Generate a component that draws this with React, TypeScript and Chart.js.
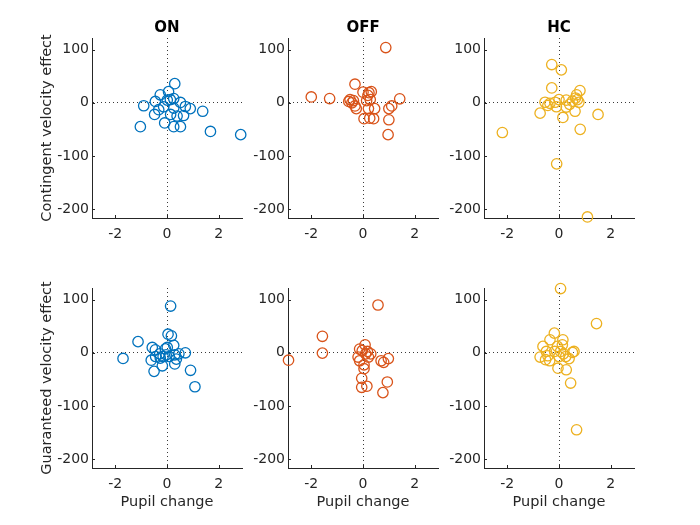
import React, { useEffect, useRef } from 'react';
import { Chart, registerables } from 'chart.js';

Chart.register(...registerables);

// ---- data ----
const GROUPS = ['ON', 'OFF', 'HC'];
const GROUP_COLORS = ['#0072BD', '#D95319', '#EDB120'];
const ROW_LABELS = ['Contingent velocity effect', 'Guaranteed velocity effect'];
const X_LABEL = 'Pupil change';
const X_TICKS = [-2, 0, 2];
const Y_TICKS = [-200, -100, 0, 100];
const X_RANGE = [-2.9, 2.9];
const Y_RANGE = [-217, 122];

const onContingent = [
  [0.30, 36], [0.06, 21], [-0.26, 15], [-0.45, 2.5], [-0.90, -5.6], [0.01, 5], [0.26, 8], [0.13, 6],
  [0.52, 0.6], [0.71, -7], [0.90, -11], [0.26, -10], [-0.32, -13], [-0.48, -22], [0.14, -22], [0.39, -25],
  [0.64, -24], [1.38, -16], [-0.09, -38], [0.26, -45], [0.52, -45], [-1.03, -45], [1.68, -54], [2.85, -60],
  [-0.13, -7.5],
];
const offContingent = [
  [0.88, 104], [-2.0, 11], [-1.29, 8], [-0.31, 35], [-0.50, 6], [-0.43, 0], [-0.37, 4], [-0.31, -6],
  [-0.26, -11], [0, 20], [0.23, 19], [0.32, 21], [0.19, 14], [0.28, 6], [0.14, 4], [0.21, -11],
  [0.45, -11], [0.04, -30], [0.26, -29], [0.41, -30], [1.0, -11], [1.11, -6], [1.42, 7.5], [1.0, -32],
  [0.97, -60], [-0.55, 2.5],
];
const hcContingent = [
  [-0.28, 72], [0.09, 62], [-0.28, 28], [-0.73, -19.5], [-0.54, 1], [-0.43, -5], [-0.15, 1], [-0.10, -7.5],
  [0.15, -27.6], [0.28, 5], [0.28, -8], [0.52, 3], [0.64, 9], [0.68, 15], [0.81, 23], [0.77, 1],
  [0.62, -16], [0.82, -50], [-2.19, -56], [-0.09, -115], [1.10, -215], [0, 6], [-0.35, -1], [0.41, -3],
  [0.71, 6], [1.51, -22],
];
const onGuaranteed = [
  [0.14, 88], [-1.12, 21], [-1.70, -10.7], [0.04, 35], [0.17, 32], [0.26, 14], [-0.57, 10], [-0.45, 5.6],
  [-0.06, 7.5], [0.01, 10], [0.71, 0], [-0.61, -14], [-0.44, -7], [-0.26, -10], [-0.15, -7], [0.08, -7],
  [0.30, -4], [0.36, -12], [0.30, -21], [-0.18, -24.5], [-0.50, -35], [0.91, -33], [1.08, -64], [0.46, -2],
  [-0.03, -4], [-0.28, -2],
];
const offGuaranteed = [
  [0.58, 90], [-1.57, 31], [-1.57, -0.6], [-2.88, -14], [0.08, 15], [-0.13, 7], [-0.03, 4], [-0.19, -8],
  [-0.13, -15], [0.10, -2], [0.30, -2], [0.21, -8], [0.04, -22.6], [0.04, -30], [-0.05, -48], [-0.05, -65],
  [0.15, -63], [0.70, -15], [0.80, -18], [0.98, -11], [0.94, -55], [0.77, -75], [0.17, 2.5],
];
const hcGuaranteed = [
  [0.06, 121], [-0.18, 37], [-0.35, 24.5], [-0.62, 12], [-0.73, -8], [-0.49, 2.5], [-0.43, -5.6], [-0.36, -15],
  [-0.06, 12], [-0.04, -29], [0.15, 24.5], [0.13, 15], [0.06, 2.5], [0.26, -7], [0.39, -11], [0.52, 0.6],
  [0.28, -32], [0.45, -57], [0.68, -145], [-0.17, 2.5], [0, -7], [0.17, -2], [0.58, 2.5], [-0.52, -13],
  [1.45, 55],
];

const PANEL_DATA = [
  [onContingent, offContingent, hcContingent],
  [onGuaranteed, offGuaranteed, hcGuaranteed],
];

// ---- layout / style ----
const FONT = '"DejaVu Sans", sans-serif';
const TEXT = '#262626';
const CANVAS_W = 220;
const CANVAS_H = 266;

const innerTicks = {
  id: 'innerTicks',
  afterDraw(chart: any) {
    const { ctx, chartArea, scales } = chart;
    const { left, bottom } = chartArea;
    ctx.save();
    ctx.strokeStyle = TEXT;
    ctx.lineWidth = 1;
    ctx.beginPath();
    X_TICKS.forEach((v) => {
      const px = Math.round(scales.x.getPixelForValue(v)) + 0.5;
      ctx.moveTo(px, bottom);
      ctx.lineTo(px, bottom - 3);
    });
    Y_TICKS.forEach((v) => {
      const py = Math.round(scales.y.getPixelForValue(v)) + 0.5;
      ctx.moveTo(left, py);
      ctx.lineTo(left + 3, py);
    });
    ctx.stroke();
    ctx.restore();
  },
};

const panelTitle = {
  id: 'panelTitle',
  afterDraw(chart: any, _args: any, opts: any) {
    if (!opts || !opts.text) return;
    const { ctx, chartArea } = chart;
    ctx.save();
    ctx.font = `bold 15px ${FONT}`;
    ctx.fillStyle = '#000000';
    ctx.textAlign = 'center';
    ctx.textBaseline = 'middle';
    ctx.fillText(opts.text, (chartArea.left + chartArea.right) / 2, 26);
    ctx.restore();
  },
};

function Panel({ row, col }: { row: number; col: number }) {
  const ref = useRef<HTMLCanvasElement | null>(null);

  useEffect(() => {
    if (!ref.current) return;
    const color = GROUP_COLORS[col];
    const pts = PANEL_DATA[row][col].map(([x, y]) => ({ x, y }));
    const zeroGrid = (c: any) => (c.tick && c.tick.value === 0 ? '#3a3a3a' : 'rgba(0,0,0,0)');
    const chart = new Chart(ref.current, {
      type: 'scatter',
      data: {
        datasets: [
          {
            data: pts,
            pointRadius: 5.2,
            pointHoverRadius: 5.2,
            pointBorderWidth: 1.3,
            pointBorderColor: color,
            pointBackgroundColor: 'rgba(0,0,0,0)',
            borderColor: color,
            backgroundColor: 'rgba(0,0,0,0)',
            clip: false as any,
          },
        ],
      },
      options: {
        responsive: false,
        animation: false,
        events: [],
        layout: { padding: { top: 36, right: 10, left: 0, bottom: 0 } },
        plugins: {
          legend: { display: false },
          tooltip: { enabled: false },
          title: { display: false },
          panelTitle: { text: row === 0 ? GROUPS[col] : '' },
        } as any,
        scales: {
          x: {
            type: 'linear',
            min: X_RANGE[0],
            max: X_RANGE[1],
            afterBuildTicks: (s: any) => {
              s.ticks = X_TICKS.map((v) => ({ value: v }));
            },
            afterFit: (s: any) => {
              s.height = 50;
            },
            grid: { color: zeroGrid, lineWidth: 1, drawTicks: false },
            border: { display: true, color: TEXT, width: 1, dash: [1, 3] },
            ticks: {
              color: TEXT,
              font: { family: FONT, size: 14 },
              padding: 8,
              maxRotation: 0,
              autoSkip: false,
              callback: (v: any) => String(v),
            },
            title: {
              display: row === 1,
              text: X_LABEL,
              color: TEXT,
              font: { family: FONT, size: 14.5 },
              padding: { top: 0, bottom: 7 },
            },
          },
          y: {
            type: 'linear',
            min: Y_RANGE[0],
            max: Y_RANGE[1],
            afterBuildTicks: (s: any) => {
              s.ticks = Y_TICKS.map((v) => ({ value: v }));
            },
            afterFit: (s: any) => {
              s.width = 60;
            },
            grid: { color: zeroGrid, lineWidth: 1, drawTicks: false },
            border: { display: true, color: TEXT, width: 1, dash: [1, 3] },
            ticks: {
              color: TEXT,
              font: { family: FONT, size: 14 },
              padding: 3,
              autoSkip: false,
              callback: (v: any) => String(v),
            },
            title: {
              display: col === 0,
              text: ROW_LABELS[row],
              color: TEXT,
              font: { family: FONT, size: 14.5 },
              padding: { top: 7, bottom: 0 },
            },
          },
        },
      },
      plugins: [innerTicks, panelTitle],
    } as any);
    return () => chart.destroy();
  }, [row, col]);

  return (
    <canvas
      ref={ref}
      width={CANVAS_W}
      height={CANVAS_H}
      style={{
        position: 'absolute',
        left: 32 + 196 * col,
        top: 2 + 250 * row,
        width: CANVAS_W,
        height: CANVAS_H,
      }}
    />
  );
}

export default function App() {
  const panels = [];
  for (let r = 0; r < 2; r++) {
    for (let c = 0; c < 3; c++) {
      panels.push(<Panel key={`${r}-${c}`} row={r} col={c} />);
    }
  }
  return (
    <div
      style={{
        position: 'absolute',
        left: 0,
        top: 0,
        width: 700,
        height: 525,
        background: '#ffffff',
        overflow: 'hidden',
      }}
    >
      {panels}
    </div>
  );
}
